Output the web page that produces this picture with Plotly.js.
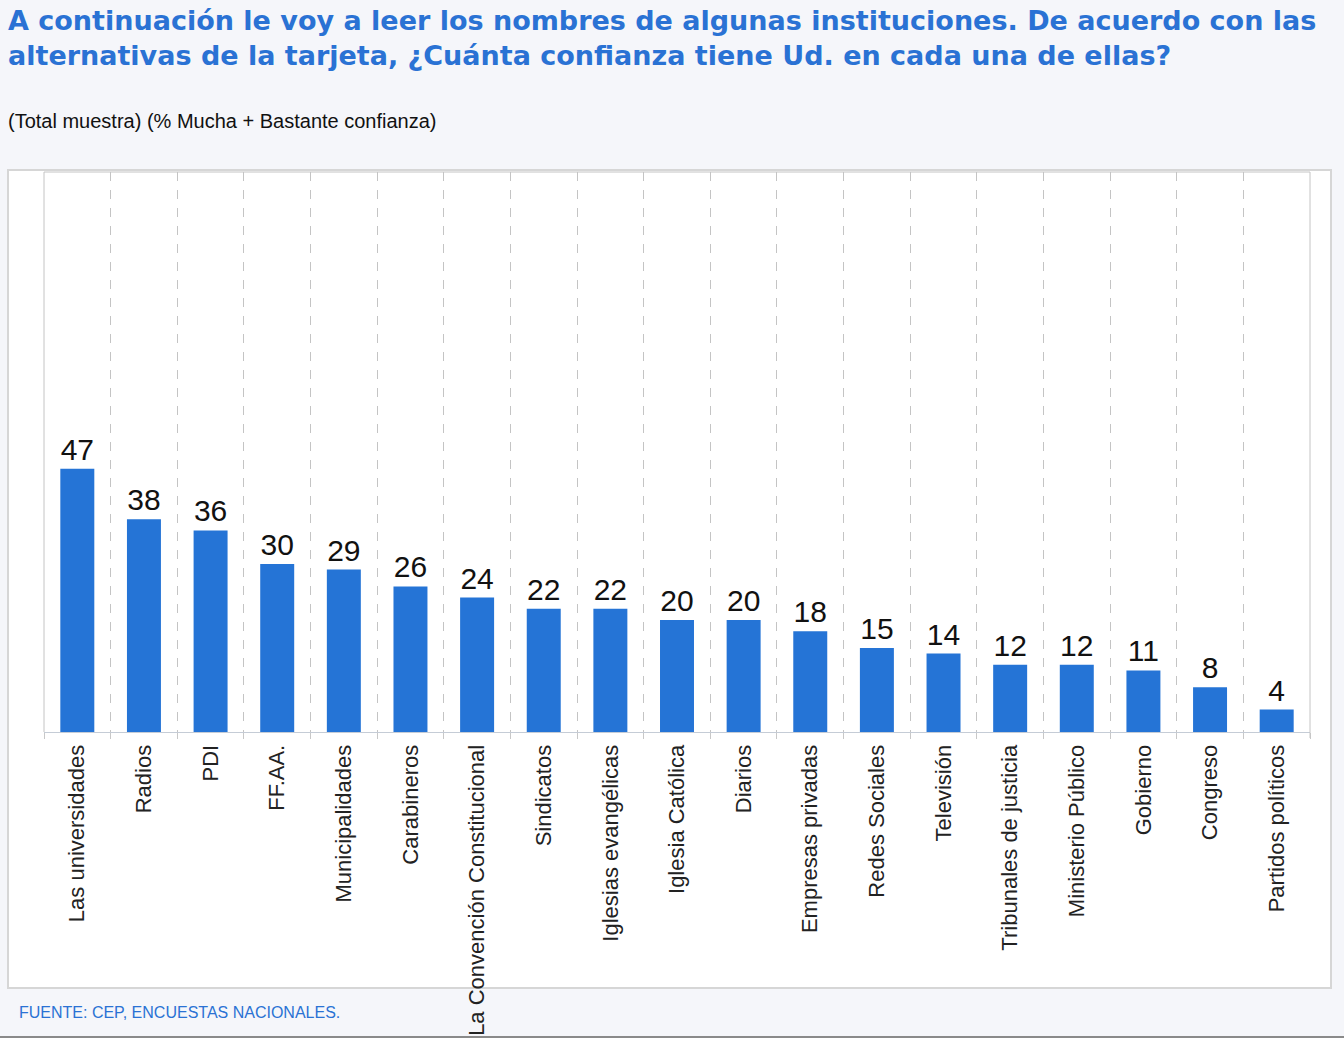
<!DOCTYPE html>
<html>
<head>
<meta charset="utf-8">
<script src="https://cdn.plot.ly/plotly-3.0.1.min.js"></script>
<style>
html,body{margin:0;padding:0;background:#f5f6fa;}
#chart{width:1344px;height:1038px;}
</style>
</head>
<body>
<div id="chart"></div>
<script>
const categories = ["Las universidades","Radios","PDI","FF.AA.","Municipalidades","Carabineros","La Convención Constitucional","Sindicatos","Iglesias evangélicas","Iglesia Católica","Diarios","Empresas privadas","Redes Sociales","Televisión","Tribunales de justicia","Ministerio Público","Gobierno","Congreso","Partidos políticos"];
const values = [47,38,36,30,29,26,24,22,22,20,20,18,15,14,12,12,11,8,4];
const titleText = "A continuación le voy a leer los nombres de algunas instituciones. De acuerdo con las<br>alternativas de la tarjeta, ¿Cuánta confianza tiene Ud. en cada una de ellas?";
const subtitleText = "(Total muestra) (% Mucha + Bastante confianza)";
const sourceText = "FUENTE: CEP, ENCUESTAS NACIONALES.";

const W = 1344, H = 1038;
const L = 44, R = 1310, T = 172, B = 732;
const px = x => (x - L) / (R - L);
const py = y => (B - y) / (B - T);

const font = "Liberation Sans, Arial, Helvetica, sans-serif";
const titleFont = "DejaVu Sans, Liberation Sans, Arial, sans-serif";

const trace = {
  type: "bar",
  x: categories,
  y: values,
  text: values.map(String),
  textposition: "outside",
  cliponaxis: false,
  textfont: {family: font, size: 30, color: "#111111"},
  marker: {color: "#2574d6"},
  hoverinfo: "skip"
};

const layout = {
  width: W, height: H,
  margin: {l: L, r: W - R, t: T, b: H - B, pad: 0},
  paper_bgcolor: "#f5f6fa",
  plot_bgcolor: "#ffffff",
  bargap: 0.49,
  showlegend: false,
  font: {family: font},
  xaxis: {
    type: "category",
    tickson: "boundaries",
    tickangle: -90,
    ticks: "outside",
    ticklen: 6,
    tickcolor: "#c8c8c8",
    ticklabelstandoff: 3,
    tickfont: {family: font, size: 22, color: "#222222"},
    showgrid: true,
    gridcolor: "#c4c4c4",
    griddash: "dash",
    gridwidth: 1,
    showline: true,
    linecolor: "#c5ccd6",
    linewidth: 1,
    mirror: false,
    zeroline: false,
    fixedrange: true,
    automargin: false
  },
  yaxis: {
    range: [0, 100],
    showticklabels: false,
    showgrid: false,
    zeroline: false,
    showline: false,
    ticks: "",
    fixedrange: true
  },
  shapes: [
    {type: "rect", xref: "paper", yref: "paper", layer: "below",
     x0: px(8), x1: px(1331), y0: py(988), y1: py(170),
     fillcolor: "#ffffff", line: {color: "#d6d6d6", width: 2}},
    {type: "line", xref: "paper", yref: "paper", layer: "above",
     x0: 0, x1: 0, y0: 0, y1: 1, line: {color: "#c4c4c4", width: 1}},
    {type: "line", xref: "paper", yref: "paper", layer: "above",
     x0: 0, x1: 1, y0: 1, y1: 1, line: {color: "#c4c4c4", width: 1}},
    {type: "line", xref: "paper", yref: "paper", layer: "above",
     x0: 1, x1: 1, y0: py(738), y1: 1, line: {color: "#c4c4c4", width: 1}},
    {type: "line", xref: "paper", yref: "paper", layer: "below",
     x0: px(0), x1: px(1344), y0: py(1037), y1: py(1037), line: {color: "#8a8a8a", width: 2}}
  ],
  annotations: [
    {xref: "paper", yref: "paper", x: px(6), y: py(3), xanchor: "left", yanchor: "top",
     text: "<b>" + titleText + "</b>", align: "left", showarrow: false,
     font: {family: titleFont, size: 27, color: "#2a72d4"}},
    {xref: "paper", yref: "paper", x: px(6), y: py(121), xanchor: "left", yanchor: "middle",
     text: subtitleText, align: "left", showarrow: false,
     font: {family: font, size: 20, color: "#111111"}},
    {xref: "paper", yref: "paper", x: px(17), y: py(1012), xanchor: "left", yanchor: "middle",
     text: sourceText, align: "left", showarrow: false,
     font: {family: font, size: 16, color: "#2a72d4"}}
  ]
};

Plotly.newPlot("chart", [trace], layout, {displayModeBar: false, staticPlot: true});
</script>
</body>
</html>
